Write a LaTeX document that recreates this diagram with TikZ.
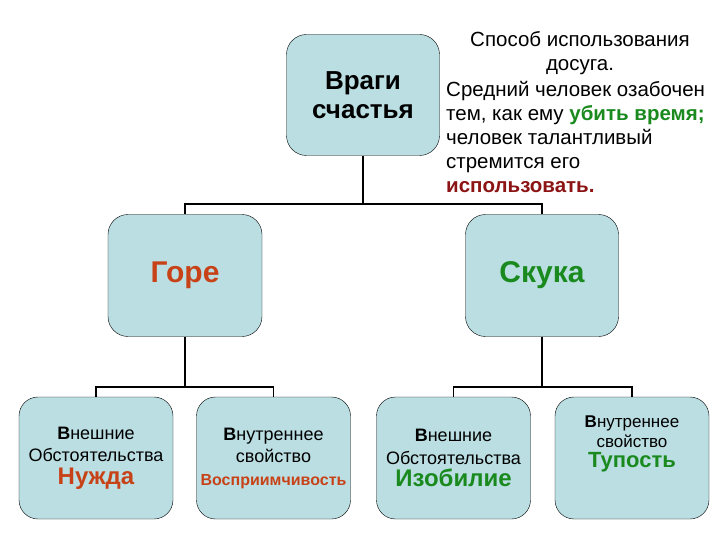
\documentclass[tikz,border=0pt]{standalone}
\usepackage{fontspec}
\setmainfont{Liberation Sans}
\usetikzlibrary{positioning}
\definecolor{boxfill}{RGB}{186,222,226}
\definecolor{griefred}{RGB}{200,66,24}
\definecolor{boregreen}{RGB}{26,138,30}
\definecolor{darkred}{RGB}{140,20,20}

\begin{document}
\begin{tikzpicture}[
    x=1pt, y=-1pt,
    bigbox/.style={draw=black, fill=boxfill, rounded corners=20pt, minimum width=153pt, minimum height=122pt, inner sep=0pt, align=center},
    smallbox/.style={draw=black, fill=boxfill, rounded corners=19pt, minimum width=154pt, minimum height=122pt, inner sep=0pt, align=center, font=\fontsize{18}{22.5}\selectfont},
    note/.style={inner sep=0pt, font=\fontsize{20.5}{24}\selectfont},
    link/.style={line width=1.8pt}
]
\useasboundingbox (0,0) rectangle (720,540);

% top box and the note beside it
\node[bigbox, minimum height=121pt, font=\bfseries\fontsize{26}{29}\selectfont] (vragi) at (363,95) {Враги\\счастья};
\node[note, anchor=north, align=center] (note1) at (580,31) {Способ использования\\досуга.};
\node[note, anchor=north west, align=left] (note2) at (446,81) {Средний человек озабочен\\тем, как ему {\bfseries\color{boregreen}убить время;}\\человек талантливый\\стремится его\\{\bfseries\color{darkred}использовать.}};

% middle row
\node[bigbox, minimum width=154pt, font=\bfseries\fontsize{30}{34}\selectfont, text=griefred] (gore) at (185,275.5) {Горе};
\node[bigbox, font=\bfseries\fontsize{30}{34}\selectfont, text=boregreen] (skuka) at (542,275.5) {Скука};

% bottom row
\node[smallbox] (nuzhda) at (96,458) {{\bfseries В}нешние\\Обстоятельства\\{\bfseries\fontsize{24}{25}\selectfont\color{griefred}Нужда}};
\node[smallbox] (vospr) at (273.5,458) {{\bfseries В}нутреннее\\свойство\\{\bfseries\fontsize{16}{21}\selectfont\color{griefred}Восприимчивость}};
\node[smallbox] (izob) at (453.5,458) {{\bfseries В}нешние\\Обстоятельства\\{\bfseries\fontsize{24}{25}\selectfont\color{boregreen}Изобилие}};
\node[smallbox] (tupost) at (632,458) {};
\node[align=center, inner sep=0pt, font=\fontsize{17}{20}\selectfont] (tuptext) at (632,444) {{\bfseries В}нутреннее\\свойство\\{\bfseries\fontsize{22}{25}\selectfont\color{boregreen}Тупость}};

% connectors
\coordinate (topfork) at (363,204);
\coordinate (leftfork) at (185,387);
\coordinate (rightfork) at (542,387);
\draw[link] (vragi) -- (topfork) -| (gore);
\draw[link] (topfork) -| (skuka);
\draw[link] (gore) -- (leftfork) -| (nuzhda);
\draw[link] (leftfork) -| (vospr);
\draw[link] (skuka) -- (rightfork) -| (izob);
\draw[link] (rightfork) -| (tupost);

\end{tikzpicture}
\end{document}
